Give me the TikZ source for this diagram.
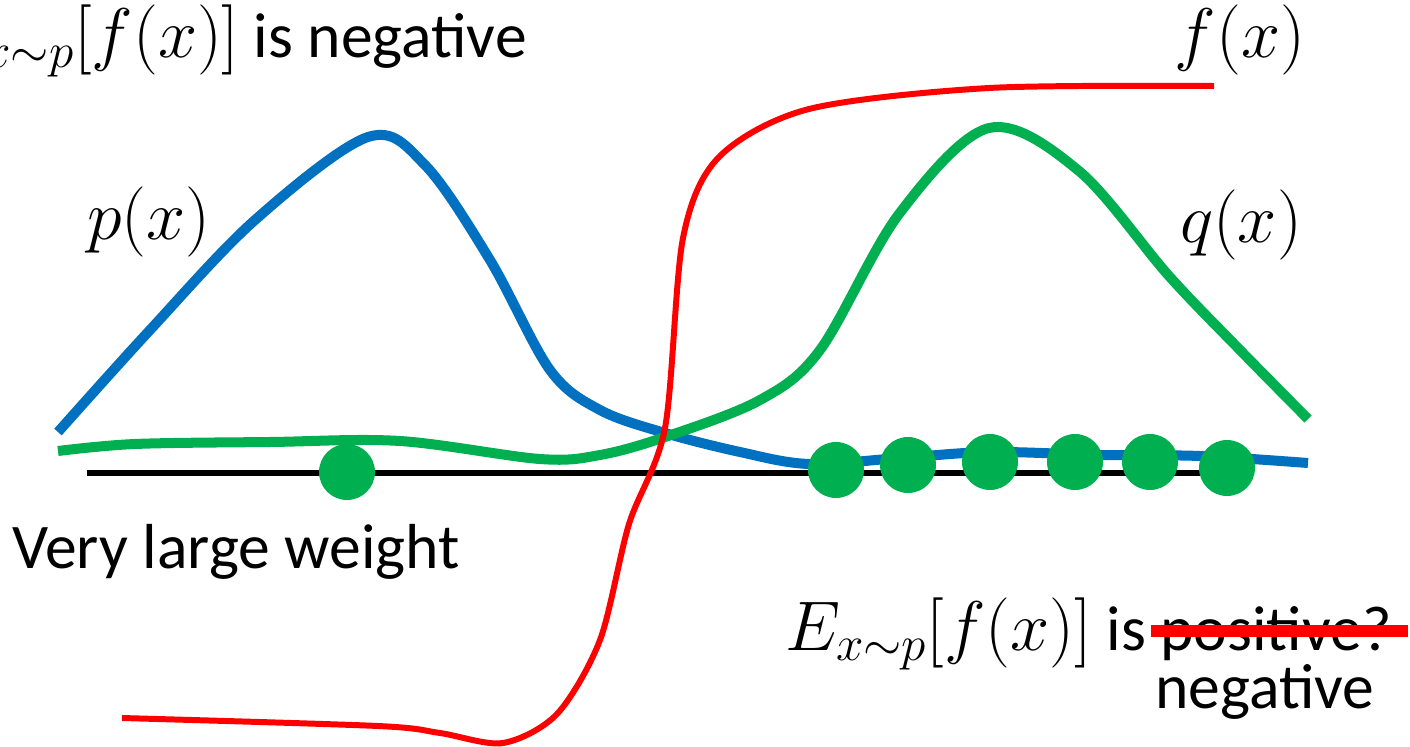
\documentclass[tikz,border=0pt]{standalone}
\usepackage{fix-cm}
\usepackage{fontspec}
\setmainfont{Carlito}
\definecolor{pblue}{HTML}{0070C0}
\definecolor{qgreen}{HTML}{00B050}
\definecolor{fred}{HTML}{FF0000}
\newcommand{\mathlbl}[1]{{\fontsize{40}{48}\selectfont$#1$}}
\begin{document}
\begin{tikzpicture}[x=0.02cm,y=-0.02cm,
  lbl/.style={font=\fontsize{36.2}{43}\selectfont, inner sep=0pt},
  curve/.style={line width=5.7pt, line join=round},
  dot/.style={circle, fill=qgreen, minimum size=56*0.02cm, inner sep=0pt}]
\useasboundingbox (0,0) rectangle (1410,747);
% axis
\coordinate (axL) at (87,473);
\coordinate (axR) at (1230,473);
\draw[line width=3.2pt] (axL) -- (axR);
% p(x)
\draw[curve, pblue] plot[smooth, tension=0.55] coordinates {
 (58,432) (150,330) (255,220) (368,137) (425,165) (490,260) (550,370) (600,410) (665,433) (740,452) (809,464) (900,458) (990,452) (1100,455) (1200,456) (1308,463)};
% q(x)
\draw[curve, qgreen] plot[smooth, tension=0.55] coordinates {
 (58,451) (135,444) (270,442) (400,441) (540,459) (600,455) (665,437) (760,400) (820,350) (899,214) (989,128) (1079,171) (1169,276) (1240,350) (1308,419)};
% f(x)
\draw[line width=3.4pt, fred, line join=round] plot[smooth, tension=0.5] coordinates {
 (122,718) (378,726) (440,733) (503,743) (557,714) (600,640) (629,524) (665,428) (683,238) (719,157) (809,109) (989,88) (1214,86)};
% dots
\node[dot] (d0) at (347,472) {};
\node[dot] (d1) at (836,470) {};
\node[dot] (d2) at (908,465) {};
\node[dot] (d3) at (990,462) {};
\node[dot] (d4) at (1075,462) {};
\node[dot] (d5) at (1150,462) {};
\node[dot] (d6) at (1227,468) {};
% labels
\node[lbl, anchor=base east] (top) at (527,57) {\mathlbl{E_{x\sim p}[f(x)]} is negative};
\node[lbl] (fx) at (1240,40) {\mathlbl{f(x)}};
\node[lbl] (px) at (149,222) {\mathlbl{p(x)}};
\node[lbl] (qx) at (1241,225) {\mathlbl{q(x)}};
\node[lbl, anchor=base west] (vlw) at (12,568) {Very large weight};
\node[lbl, anchor=base west] (bot) at (785,650) {\mathlbl{E_{x\sim p}[f(x)]} is positive?};
\node[lbl, anchor=base west] (neg) at (1155,708) {negative};
\coordinate (sL) at (1151,631);
\coordinate (sR) at (1408,631);
\draw[fred, line width=6.5pt] (sL) -- (sR);
\end{tikzpicture}
\end{document}
